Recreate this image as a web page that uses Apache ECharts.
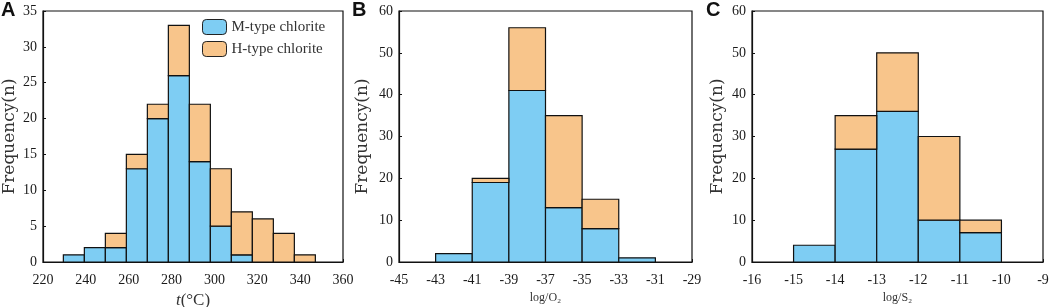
<!DOCTYPE html>
<html>
<head>
<meta charset="utf-8">
<script src="https://cdn.jsdelivr.net/npm/echarts@6/dist/echarts.min.js"></script>
<style>
html,body{margin:0;padding:0;background:#fff;}
#main{width:1052px;height:307px;}
</style>
</head>
<body>
<div id="main"></div>
<script>
// A: temperature bins (edges)
var tempEdges = [229.5, 239.3, 249.1, 258.9, 268.7, 278.5, 288.3, 298.1, 307.9, 317.7, 327.5, 337.3, 347.1];
var tempM = [1, 2, 2, 13, 20, 26, 14, 5, 1, 0, 0, 0];
var tempH = [0, 0, 2, 2, 2, 7, 8, 8, 6, 6, 4, 1];
// B: log fO2
var o2Edges = [-43, -41, -39, -37, -35, -33, -31];
var o2M = [2, 19, 41, 13, 8, 1];
var o2H = [0, 1, 15, 22, 7, 0];
// C: log fS2
var s2Edges = [-15, -14, -13, -12, -11, -10];
var s2M = [4, 27, 36, 10, 7];
var s2H = [0, 8, 14, 20, 3];

var blue = '#7ecdf3';
var orange = '#f8c58b';
var serif = '"Liberation Serif", "Times New Roman", serif';
var wideSerif = '"DejaVu Serif", serif';

// build [x0, x1, bottom, top] rows
function lowerRows(edges, m) {
	var rows = [];
	for (var i = 0; i < m.length; i++) {
		if (m[i] > 0) rows.push([edges[i], edges[i + 1], 0, m[i]]);
	}
	return rows;
}
function upperRows(edges, m, h) {
	var rows = [];
	for (var i = 0; i < h.length; i++) {
		if (h[i] > 0) rows.push([edges[i], edges[i + 1], m[i], m[i] + h[i]]);
	}
	return rows;
}

function renderBar(params, api) {
	var p0 = api.coord([api.value(0), api.value(3)]);
	var p1 = api.coord([api.value(1), api.value(2)]);
	return {
		type: 'rect',
		shape: {x: p0[0], y: p0[1], width: p1[0] - p0[0], height: p1[1] - p0[1]},
		style: {fill: api.visual('color'), stroke: '#111', lineWidth: 1.2}
	};
}

function xAxisOf(idx, min, max, interval, name) {
	return {
		gridIndex: idx, type: 'value', min: min, max: max, interval: interval,
		name: name, nameLocation: 'middle', nameGap: 28,
		nameTextStyle: {fontFamily: serif, fontSize: 12, color: '#333'},
		axisLine: {show: true, onZero: false, lineStyle: {color: '#111', width: 1.2}},
		axisTick: {show: true, inside: true, length: 3, lineStyle: {color: '#111'}},
		splitLine: {show: false},
		axisLabel: {fontFamily: serif, fontSize: 14, color: '#1a1a1a', margin: 11}
	};
}
function yAxisOf(idx, max, interval, gap) {
	return {
		gridIndex: idx, type: 'value', min: 0, max: max, interval: interval,
		name: 'Frequency(n)', nameLocation: 'middle', nameGap: gap,
		nameTextStyle: {fontFamily: wideSerif, fontSize: 17, color: '#333'},
		axisLine: {show: true, lineStyle: {color: '#111', width: 1.2}},
		axisTick: {show: true, inside: true, length: 3, lineStyle: {color: '#111'}},
		splitLine: {show: false},
		axisLabel: {fontFamily: serif, fontSize: 14, color: '#1a1a1a', margin: 6}
	};
}
function seriesOf(idx, name, color, rows) {
	return {
		type: 'custom', name: name, xAxisIndex: idx, yAxisIndex: idx,
		renderItem: renderBar, itemStyle: {color: color},
		encode: {x: [0, 1], y: [2, 3]}, data: rows, animation: false
	};
}

var gridBox = {show: true, borderColor: '#111', borderWidth: 1.2, backgroundColor: '#fff', outerBoundsMode: 'none', containLabel: false};

var option = {
	backgroundColor: '#fff',
	animation: false,
	grid: [
		Object.assign({left: 43, top: 11, width: 300, height: 251}, gridBox),
		Object.assign({left: 399, top: 11, width: 293, height: 251}, gridBox),
		Object.assign({left: 752, top: 11, width: 291, height: 251}, gridBox)
	],
	legend: {
		left: 202, top: 19, orient: 'vertical', padding: 0,
		itemWidth: 24, itemHeight: 15, itemGap: 6,
		data: ['M-type chlorite', 'H-type chlorite'],
		itemStyle: {borderColor: '#222', borderWidth: 1},
		textStyle: {fontFamily: serif, fontSize: 15, color: '#333'}
	},
	xAxis: [
		Object.assign(xAxisOf(0, 220, 360, 20, '{i|t}(°C)'), {
			nameGap: 30,
			nameTextStyle: {fontFamily: serif, fontSize: 17, color: '#333',
				rich: {i: {fontFamily: serif, fontStyle: 'italic', fontSize: 17, color: '#333'}}}
		}),
		xAxisOf(1, -45, -29, 2, 'log/O₂'),
		xAxisOf(2, -16, -9, 1, 'log/S₂')
	],
	yAxis: [
		yAxisOf(0, 35, 5, 25),
		yAxisOf(1, 60, 10, 28),
		yAxisOf(2, 60, 10, 26)
	],
	series: [
		seriesOf(0, 'M-type chlorite', blue, lowerRows(tempEdges, tempM)),
		seriesOf(0, 'H-type chlorite', orange, upperRows(tempEdges, tempM, tempH)),
		seriesOf(1, 'M-type chlorite', blue, lowerRows(o2Edges, o2M)),
		seriesOf(1, 'H-type chlorite', orange, upperRows(o2Edges, o2M, o2H)),
		seriesOf(2, 'M-type chlorite', blue, lowerRows(s2Edges, s2M)),
		seriesOf(2, 'H-type chlorite', orange, upperRows(s2Edges, s2M, s2H))
	],
	graphic: [
		{type: 'text', left: 1, top: 0, style: {text: 'A', font: 'bold 20px "Liberation Sans", Arial, sans-serif', fill: '#111'}},
		{type: 'text', left: 352, top: 0, style: {text: 'B', font: 'bold 20px "Liberation Sans", Arial, sans-serif', fill: '#111'}},
		{type: 'text', left: 706, top: 0, style: {text: 'C', font: 'bold 20px "Liberation Sans", Arial, sans-serif', fill: '#111'}}
	]
};

var chart = echarts.init(document.getElementById('main'));
chart.setOption(option);
</script>
</body>
</html>
